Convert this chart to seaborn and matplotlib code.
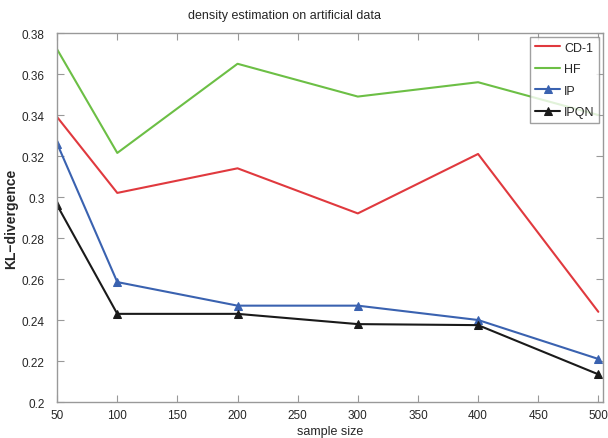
import matplotlib
matplotlib.use("Agg")
import matplotlib.pyplot as plt
import seaborn as sns
import pandas as pd

sample_size = [50, 100, 200, 300, 400, 500]
cd1 = [0.339, 0.302, 0.314, 0.292, 0.321, 0.244]
hf = [0.372, 0.3215, 0.365, 0.349, 0.356, 0.340]
ip = [0.326, 0.2585, 0.247, 0.247, 0.240, 0.221]
ipqn = [0.296, 0.243, 0.243, 0.238, 0.2375, 0.2135]

sns.set_style("white")
plt.rcParams['font.family'] = ['Liberation Sans', 'DejaVu Sans']

fig = plt.figure(figsize=(6.08, 4.39), dpi=100)
ax = fig.add_axes([0.094, 0.082, 0.898, 0.8405])

series = [("CD-1", cd1, "#e0393e", None),
          ("HF", hf, "#6cbf45", None),
          ("IP", ip, "#3a62b0", "^"),
          ("IPQN", ipqn, "#1a1a1a", "^")]
for name, vals, col, mk in series:
    df = pd.DataFrame({"x": sample_size, "y": vals})
    sns.lineplot(data=df, x="x", y="y", ax=ax, color=col, marker=mk,
                 markersize=6, markeredgecolor=col, linewidth=1.5, label=name)

ax.set_xlim(50, 504)
ax.set_ylim(0.2, 0.38)
ax.set_xticks(list(range(50, 501, 50)))
ax.set_yticks([0.2, 0.22, 0.24, 0.26, 0.28, 0.3, 0.32, 0.34, 0.36, 0.38])
ax.set_yticklabels(["0.2", "0.22", "0.24", "0.26", "0.28", "0.3", "0.32", "0.34", "0.36", "0.38"])
ax.tick_params(direction="in", top=True, right=True, length=5, color="#999999",
               labelsize=8.5, bottom=True, left=True)
ax.tick_params(axis="y", pad=9)
ax.tick_params(axis="x", pad=5)
for s in ax.spines.values():
    s.set_color("#999999")
    s.set_linewidth(1.0)
ax.set_xlabel("sample size", fontsize=9, labelpad=3)
ax.set_ylabel("KL\u2212divergence", fontsize=10, fontweight="bold")
ax.yaxis.set_label_coords(-0.072, 0.5)
ax.set_title("density estimation on artificial data", fontsize=9, pad=11, x=0.416)
leg = ax.legend(loc="upper right", fontsize=9, frameon=True, fancybox=False,
                edgecolor="#888888", handlelength=2.0, handletextpad=0.3,
                borderaxespad=0.3, labelspacing=0.75)
leg.get_frame().set_linewidth(1.0)
fig.savefig("out.png", dpi=100)
